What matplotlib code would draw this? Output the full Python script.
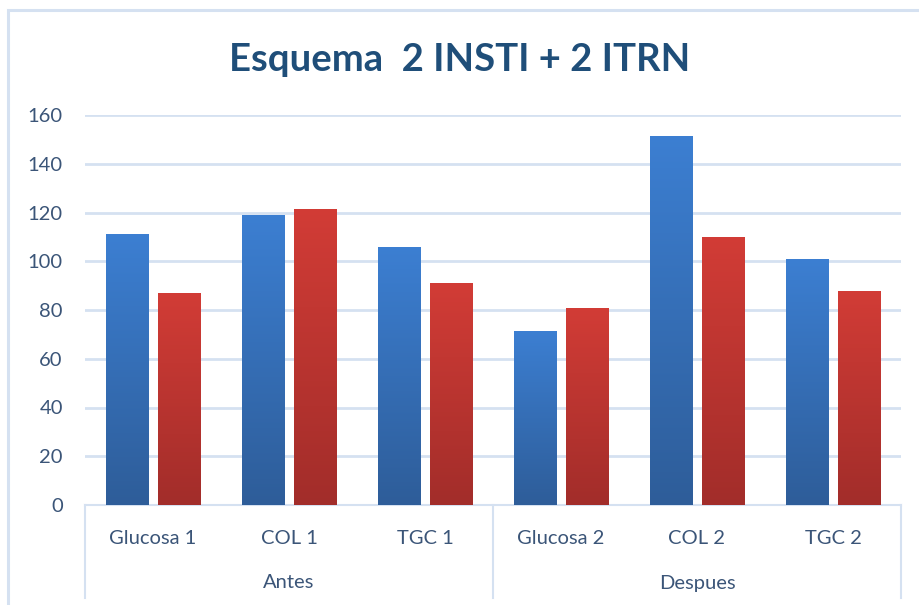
import matplotlib
matplotlib.use("Agg")
import matplotlib.pyplot as plt
import numpy as np
from matplotlib.colors import LinearSegmentedColormap
from matplotlib.patches import Rectangle
import matplotlib.transforms as mtransforms

plt.rcParams["font.family"] = ["Lato", "DejaVu Sans"]

# ── Data ─────────────────────────────────────────────────────────────────────
CATEGORIES = ["Glucosa 1", "COL 1", "TGC 1", "Glucosa 2", "COL 2", "TGC 2"]
GROUPS     = ["Antes", "Despues"]
SERIES_A   = [111, 119, 106, 71.5, 151.5, 101]   # blue
SERIES_B   = [87, 121.5, 91, 81, 110, 88]        # red
Y_TICKS    = [0, 20, 40, 60, 80, 100, 120, 140, 160]

TEXT_COL  = "#3B5578"
TITLE_COL = "#1F4E79"
LINE_COL  = "#D5E1F1"
BLUE_CMAP = LinearSegmentedColormap.from_list("b", ["#2E5D99", "#3C7FD2"])
RED_CMAP  = LinearSegmentedColormap.from_list("r", ["#A22D2A", "#D23C36"])

W, GAP = 0.31, 0.078
FS = 14.5

fig = plt.figure(figsize=(9.2, 6.05), dpi=100)
ax = fig.add_axes([85 / 920, 1 - 505 / 605, 816 / 920, 390 / 605])

# chart border (light blue frame)
fig.patches.append(Rectangle((8 / 920, -0.05), 1.2, 1 - 10 / 605 + 0.05,
                             transform=fig.transFigure, fill=False,
                             edgecolor=LINE_COL, lw=2.2))

grad = np.linspace(0, 1, 256).reshape(-1, 1)
x = np.arange(len(CATEGORIES)) + 0.5

def gradient_bars(xs, vals, cmap):
    bars = ax.bar(xs, vals, width=W, color="none", edgecolor="none", zorder=3)
    for b in bars:
        x0, y0 = b.get_x(), b.get_y()
        im = ax.imshow(grad, cmap=cmap, origin="lower", aspect="auto",
                       extent=(x0, x0 + b.get_width(), y0, y0 + b.get_height()),
                       zorder=3)
        im.set_clip_path(b)

gradient_bars(x - (W + GAP) / 2, SERIES_A, BLUE_CMAP)
gradient_bars(x + (W + GAP) / 2, SERIES_B, RED_CMAP)

ax.set_xlim(0, len(CATEGORIES))
ax.set_ylim(0, 160)
ax.set_yticks(Y_TICKS)
ax.yaxis.grid(True, color=LINE_COL, lw=2)
ax.set_axisbelow(True)
for s in ["top", "right", "left"]:
    ax.spines[s].set_visible(False)
ax.spines["bottom"].set_color(LINE_COL)
ax.spines["bottom"].set_linewidth(1.5)
ax.tick_params(axis="y", length=0, pad=16, labelsize=FS, labelcolor=TEXT_COL)
ax.set_xticks(x)
ax.set_xticklabels(CATEGORIES)
ax.tick_params(axis="x", length=0, pad=18, labelsize=FS, labelcolor=TEXT_COL)

# group labels and separators under the category axis
trans = mtransforms.blended_transform_factory(ax.transData, ax.transAxes)
for xs in [0, 3, 6]:
    ax.plot([xs, xs], [0, -0.238], transform=trans, color=LINE_COL, lw=1.5,
            clip_on=False)
for i, g in enumerate(GROUPS):
    ax.text(1.5 + 3 * i, -0.2, g, transform=trans, ha="center", va="center",
            fontsize=FS, color=TEXT_COL)

fig.text(0.5, 1 - 60 / 605, "Esquema  2 INSTI + 2 ITRN", ha="center",
         va="center", fontsize=27.5, fontweight="bold", color=TITLE_COL)

fig.savefig("out.png", dpi=100)
